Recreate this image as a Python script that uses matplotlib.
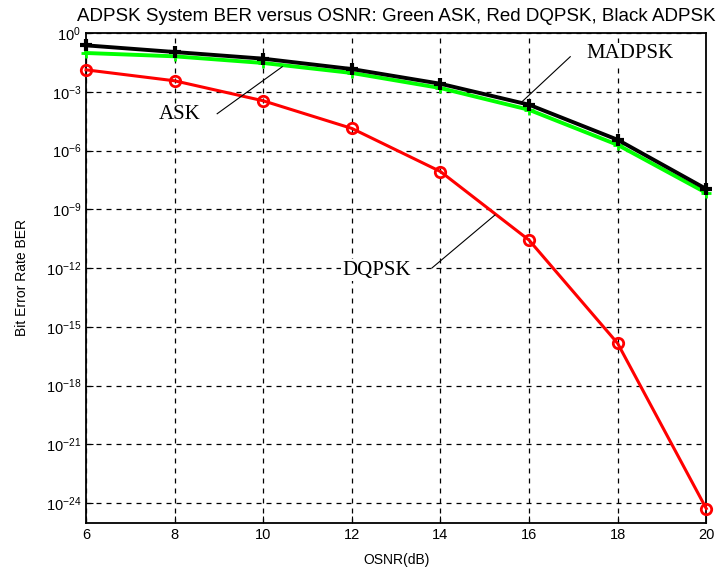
import numpy as np
import matplotlib
matplotlib.use("Agg")
import matplotlib.pyplot as plt

osnr = [6, 8, 10, 12, 14, 16, 18, 20]
# log10 of BER
madpsk_log = [-0.63, -0.97, -1.31, -1.84, -2.59, -3.66, -5.45, -7.96]
ask_log = [-1.02, -1.19, -1.53, -2.04, -2.81, -3.92, -5.71, -8.16]
dqpsk_log = [-1.88, -2.44, -3.46, -4.87, -7.07, -10.57, -15.84, -24.27]

madpsk = 10.0 ** np.array(madpsk_log)
ask = 10.0 ** np.array(ask_log)
dqpsk = 10.0 ** np.array(dqpsk_log)

plt.rcParams["font.family"] = ["Liberation Sans", "DejaVu Sans"]

fig = plt.figure(figsize=(7.17, 5.79), dpi=100)
ax = fig.add_axes([0.120, 0.097, 0.865, 0.846])

ax.semilogy(osnr, ask, color="#00ff00", lw=2.8, marker="+", ms=7, mew=2,
            clip_on=False, zorder=3)
ax.semilogy(osnr, madpsk, color="black", lw=2.8, marker="+", ms=8, mew=3,
            clip_on=False, zorder=4)
ax.semilogy(osnr, dqpsk, color="red", lw=2.2, marker="o", ms=7.5, mew=2,
            mfc="none", clip_on=False, zorder=3)

ax.set_xlim(6, 20)
ax.set_ylim(1e-25, 1e0)
ax.set_xticks(osnr)
ax.set_yticks([10.0 ** -k for k in range(0, 25, 3)])
ax.minorticks_off()
ax.tick_params(direction="in", length=5, labelsize=10.5, colors="black")
ax.grid(True, color="black", linestyle=(0, (4, 4)), lw=0.9)
for s in ax.spines.values():
    s.set_linewidth(1.3)

ax.set_title("ADPSK System BER versus OSNR: Green ASK, Red DQPSK, Black ADPSK",
             fontsize=13.5, pad=9)
ax.set_xlabel("OSNR(dB)", fontsize=10, labelpad=8)
ax.set_ylabel("Bit Error Rate BER", fontsize=10, labelpad=12)

serif = ["Liberation Serif", "DejaVu Serif"]
notes = [
    ("ASK", 8.12, 10 ** -4.18, [8.96, 10.43], [10 ** -4.12, 10 ** -1.72]),
    ("MADPSK", 18.28, 10 ** -1.06, [16.93, 15.84], [10 ** -1.21, 10 ** -3.51]),
    ("DQPSK", 12.57, 10 ** -12.1, [13.81, 15.23], [10 ** -11.99, 10 ** -9.29]),
]
for label, tx, ty, lx, ly in notes:
    ax.text(tx, ty, label, family=serif, fontsize=15, ha="center", va="center",
            bbox=dict(facecolor="white", edgecolor="none", pad=1), zorder=5)
    ax.plot(lx, ly, color="black", lw=0.8, zorder=5)

fig.savefig("out.png", dpi=100)
